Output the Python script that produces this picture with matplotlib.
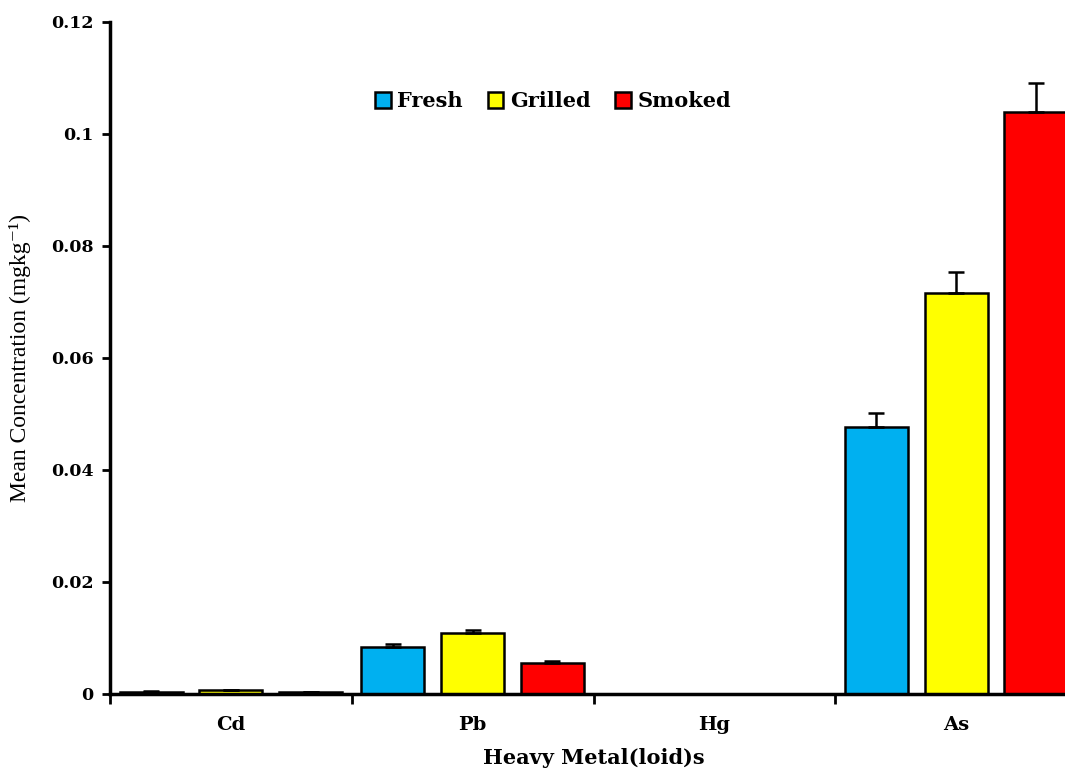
import numpy as np
import matplotlib
matplotlib.use("Agg")
import matplotlib.pyplot as plt
from matplotlib.patches import Patch

metals = ["Cd", "Pb", "Hg", "As"]
groups = ["Fresh", "Grilled", "Smoked"]
colors = ["#00B0F0", "#FFFF00", "#FF0000"]

fresh = [0.0004, 0.0084, 0.00003, 0.0477]
grilled = [0.0007, 0.0109, 0.00003, 0.0716]
smoked = [0.0003, 0.0055, 0.00003, 0.1039]

fresh_err = [0.0001, 0.0005, 0.0, 0.0025]
grilled_err = [0.0001, 0.0005, 0.0, 0.0038]
smoked_err = [0.0001, 0.0004, 0.0, 0.0052]

fig = plt.figure(figsize=(10.65, 7.69), dpi=100)
# axes runs off the right edge like the source image
ax = fig.add_axes([110 / 1065, 1 - 694 / 769, (1077 - 110) / 1065, (694 - 22) / 769])

x = np.arange(len(metals))
offsets = [-0.33, 0.0, 0.33]
width = 0.26
series = [fresh, grilled, smoked]
errs = [fresh_err, grilled_err, smoked_err]
for vals, err, off, col, lab in zip(series, errs, offsets, colors, groups):
    ax.bar(x + off, vals, width, color=col, edgecolor="black", linewidth=1.8,
           label=lab, zorder=2)
    ax.errorbar(x + off, vals, yerr=[np.zeros(len(err)), err], fmt="none",
                ecolor="black", elinewidth=1.8, capsize=6, capthick=1.8, zorder=3)

ax.set_xlim(-0.5, 3.5)
ax.set_ylim(0, 0.12)
ax.set_yticks([0, 0.02, 0.04, 0.06, 0.08, 0.1, 0.12])
ax.set_yticklabels(["0", "0.02", "0.04", "0.06", "0.08", "0.1", "0.12"])
ax.set_xticks(x)
ax.set_xticklabels(metals)
ax.set_xticks(np.arange(-0.5, 4.0, 1.0), minor=True)
ax.tick_params(axis="x", which="major", length=0, pad=16)
ax.tick_params(axis="x", which="minor", length=7, width=2, direction="out")
ax.tick_params(axis="y", length=6, width=2, direction="out", pad=6)

for lbl in ax.get_yticklabels():
    lbl.set_family("DejaVu Serif")
    lbl.set_fontweight("bold")
    lbl.set_fontsize(12.5)
for lbl in ax.get_xticklabels():
    lbl.set_family("DejaVu Serif")
    lbl.set_fontweight("bold")
    lbl.set_fontsize(14)

for s in ["top", "right"]:
    ax.spines[s].set_visible(False)
for s in ["left", "bottom"]:
    ax.spines[s].set_linewidth(2.5)

ax.set_ylabel("Mean Concentration (mgkg\u207b\u00b9)",
              family=["Liberation Serif", "DejaVu Serif"],
              fontsize=17, labelpad=14)
ax.set_xlabel("Heavy Metal(loid)s", family="DejaVu Serif", fontweight="bold",
              fontsize=15, labelpad=10)

handles = [Patch(facecolor=c, edgecolor="black", linewidth=1.8) for c in colors]
ax.legend(handles, groups, loc="upper left", bbox_to_anchor=(0.255, 0.925),
          ncol=3, frameon=False, handlelength=0.75, handleheight=0.75,
          handletextpad=0.3, columnspacing=1.2,
          prop={"family": "DejaVu Serif", "weight": "bold", "size": 15})

fig.savefig("out.png", dpi=100)
